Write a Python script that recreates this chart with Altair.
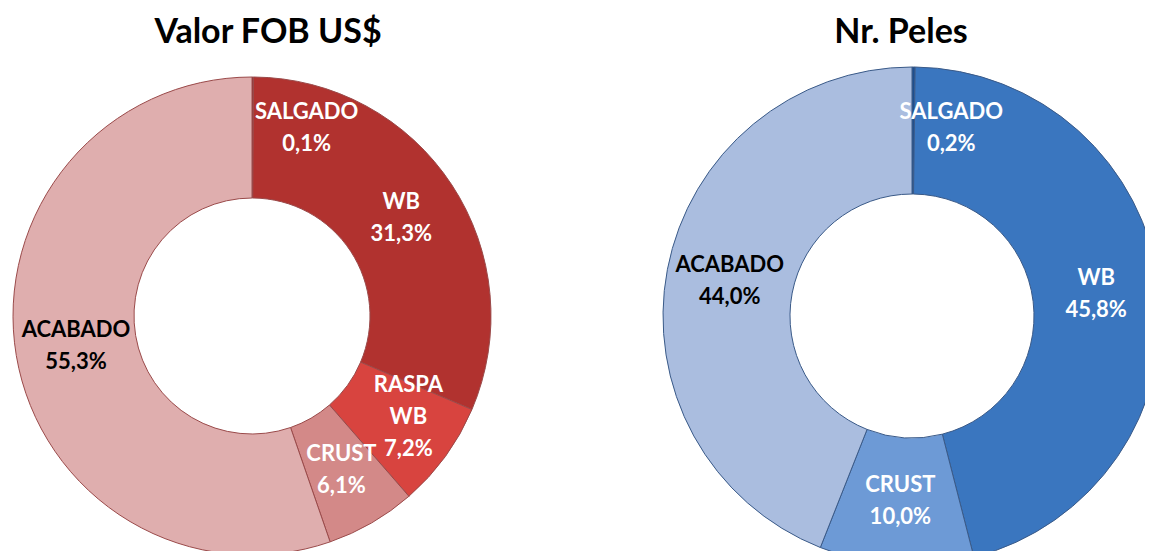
import altair as alt
import pandas as pd

# ---- data ----
title_fob = "Valor FOB US$"
categories_fob = ["SALGADO", "WB", "RASPA WB", "CRUST", "ACABADO"]
values_fob = [0.1, 31.3, 7.2, 6.1, 55.3]
colors_fob = ["#7e1c1c", "#b1322f", "#d8443f", "#d38988", "#dfaeae"]

title_peles = "Nr. Peles"
categories_peles = ["SALGADO", "WB", "CRUST", "ACABADO"]
values_peles = [0.2, 45.8, 10.0, 44.0]
colors_peles = ["#1d4f8f", "#3a76bf", "#6d9ad6", "#aabddf"]

FONT = "Lato"
LH = 32


def donut(cats, vals, cols, title, cx, cy, r_out, r_in, title_x, sal_r, sal_dx,
          stroke, w, h, dx3=0):
    df = pd.DataFrame({"cat": cats, "val": vals, "idx": list(range(len(cats)))})
    base = alt.Chart(df).transform_calculate(
        lbl="replace(datum.cat, ' ', '|') + '|' + replace(format(datum.val, '.1f'), '.', ',') + '%'",
        nl="indexof(datum.cat, ' ') >= 0 ? 3 : 2",
    )
    theta_stack = alt.Theta("val:Q", stack=True, scale=alt.Scale(domain=[0, 100]))
    arcs = base.mark_arc(outerRadius=r_out, innerRadius=r_in, stroke=stroke,
                         strokeWidth=1, clip=True).encode(
        theta=theta_stack,
        color=alt.Color("cat:N", scale=alt.Scale(domain=cats, range=cols), legend=None),
        order=alt.Order("idx:Q"),
        x=alt.value(cx), y=alt.value(cy),
    )
    mid_base = base.transform_window(
        cum="sum(val)", sort=[alt.SortField("idx")], frame=[None, 0]
    ).transform_calculate(mid="datum.cum - datum.val / 2")
    theta_mid = alt.Theta("mid:Q", stack=None, scale=alt.Scale(domain=[0, 100]))
    txt_color = alt.condition(alt.datum.cat == "ACABADO", alt.value("black"), alt.value("white"))
    text_props = dict(font=FONT, fontSize=22, fontWeight="bold", lineBreak="|",
                      lineHeight=LH, align="center", baseline="middle")
    layers = [arcs]
    for n in (2, 3):
        layers.append(
            mid_base.transform_filter(
                (alt.datum.nl == n) & (alt.datum.cat != "SALGADO")
            ).mark_text(radius=(r_out + r_in) / 2, dy=-(n - 1) * LH / 2 - (4 if n == 3 else 0),
                        dx=(dx3 if n == 3 else 0), **text_props).encode(
                theta=theta_mid,
                text="lbl:N",
                color=txt_color,
                x=alt.value(cx), y=alt.value(cy),
            )
        )
    layers.append(
        mid_base.transform_filter(alt.datum.cat == "SALGADO").mark_text(
            radius=sal_r, dx=sal_dx, color="white", **text_props
        ).encode(
            theta=theta_mid,
            text="lbl:N",
            x=alt.value(cx), y=alt.value(cy),
        )
    )
    layers.append(
        alt.Chart(pd.DataFrame({"t": [title]})).mark_text(
            font=FONT, fontSize=34, fontWeight="bold", color="black",
            align="center", baseline="middle"
        ).encode(text="t:N", x=alt.value(title_x), y=alt.value(25))
    )
    return alt.layer(*layers).properties(width=w, height=h)


left = donut(categories_fob, values_fob, colors_fob, title_fob,
             244, 308, 239, 118, 260, 204, 54, "#9a4a4a", 572, 543, dx3=12)
right = donut(categories_peles, values_peles, colors_peles, title_peles,
              332, 308, 249, 122, 321, 204, 38, "#3a5a88", 565, 543)

chart = (
    alt.hconcat(left, right, spacing=0)
    .resolve_scale(color="independent", theta="independent")
    .properties(padding=0)
    .configure_view(stroke=None)
)

chart.save("out.html", embed_options={"renderer": "svg", "actions": False})
